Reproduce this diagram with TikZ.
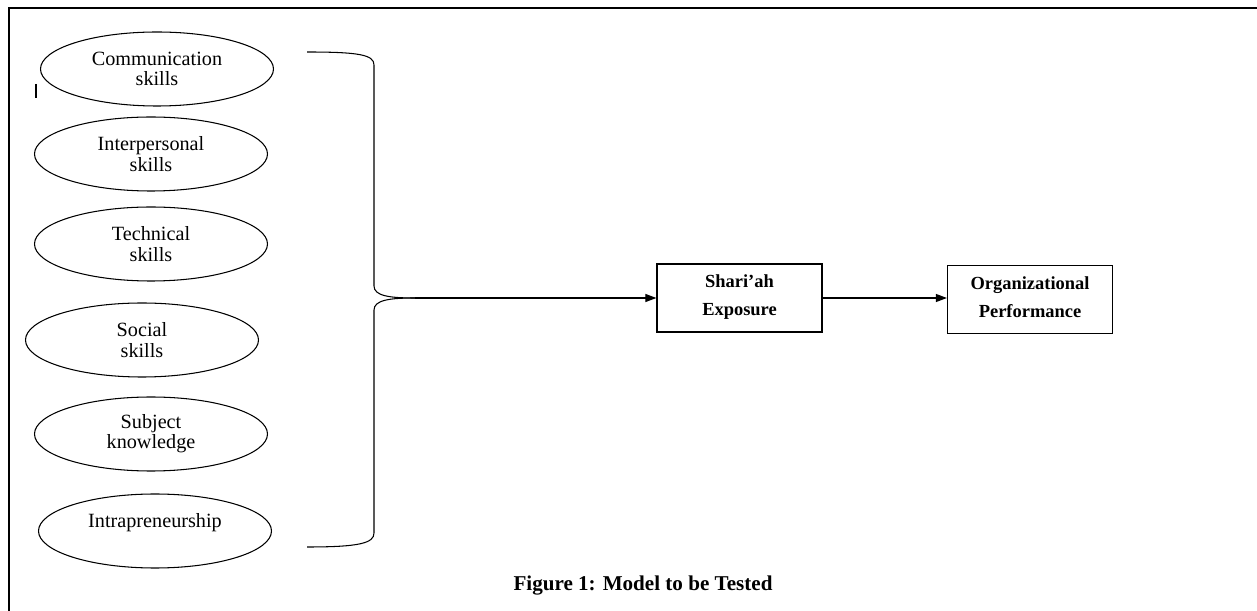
\documentclass[tikz,border=0pt]{standalone}
\usepackage{fontspec}
\setmainfont{Liberation Serif}
\usetikzlibrary{shapes.geometric,arrows.meta}
\tikzset{
  skill/.style={draw, ellipse, line width=0.6pt, minimum width=4.66cm, minimum height=1.48cm,
    inner sep=0pt, align=center, font=\fontsize{11.5}{11.5}\selectfont},
  outcome/.style={draw, rectangle, line width=0.7pt, minimum width=3.3cm, minimum height=1.36cm,
    inner sep=0pt, align=center, font=\bfseries\fontsize{10.5}{16}\selectfont},
  link/.style={line width=0.6pt, -{Triangle[length=2.2mm,width=1.6mm]}}
}
\begin{document}
\begin{tikzpicture}
            \useasboundingbox (0.000000,0.000000) rectangle (25.140000,-12.220000);
            
            % Drawing frame
            \draw [line width=1.1pt] (0.180000,-12.220000) -- (0.180000,-0.160000) -- (25.140000,-0.160000);%
            \draw [line width=1.6pt] (0.720000,-1.680000) -- (0.720000,-1.960000);%
            
            % Marking skill ellipses
            \node [skill] (comm) at (3.140000,-1.380000) {Communication\\skills};%
            \node [skill] (inter) at (3.020000,-3.080000) {Interpersonal\\skills};%
            \node [skill] (tech) at (3.020000,-4.880000) {Technical\\skills};%
            \node [skill] (social) at (2.840000,-6.800000) {Social\\skills};%
            \node [skill] (subj) at (3.020000,-8.680000) {Subject\\knowledge};%
            \node [skill] (intra) at (3.100000,-10.620000) {Intrapreneurship\\\mbox{}};%
            
            % Marking boxes
            \node [outcome] (shariah) at (14.790000,-5.960000) {Shari'ah\\Exposure\\[-13pt]\mbox{}};%
            \node [outcome] (perf) at (20.600000,-5.990000) {Organizational\\Performance\\[-13pt]\mbox{}};%
            
            % Drawing brace
            \coordinate (btop) at (6.140000,-1.040000);%
            \coordinate (bbot) at (6.140000,-10.940000);%
            \coordinate (btip) at (8.300000,-5.960000);%
            \draw [line width=0.6pt] (btop) .. controls (7.200000,-1.040000) and (7.480000,-1.100000) .. (7.480000,-1.300000)
              -- (7.480000,-5.720000) .. controls (7.480000,-5.920000) and (7.800000,-5.960000) .. (btip);%
            \draw [line width=0.6pt] (btip) .. controls (7.800000,-5.960000) and (7.480000,-6.000000) .. (7.480000,-6.200000)
              -- (7.480000,-10.660000) .. controls (7.480000,-10.860000) and (7.200000,-10.940000) .. (bbot);%
            
            % Drawing arrows
            \draw [link] (btip) -- (shariah.west);%
            \draw [link] (shariah.east) -- (shariah.east -| perf.west);%
            
            % Marking caption
            \node [font=\bfseries\fontsize{12}{14}\selectfont] (caption) at (12.860000,-11.720000) {Figure 1: Model to be Tested};%
\end{tikzpicture}
\end{document}
